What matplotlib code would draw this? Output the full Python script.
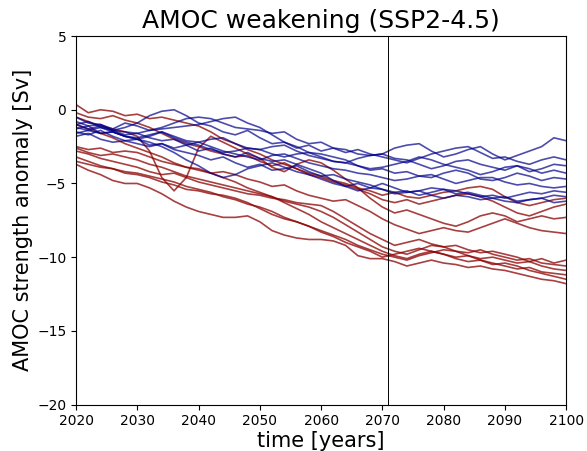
import numpy as np
import matplotlib
matplotlib.use("Agg")
import matplotlib.pyplot as plt

years = list(range(2020, 2101, 2))

# Blue ensemble members (AMOC anomaly, Sv)
blue_1 = [-1.0, -0.8, -1.2, -1.4, -1.2,
          -0.9, -0.4, -0.1, 0.0, -0.4,
          -0.9, -1.1, -1.5, -1.7, -1.4,
          -1.9, -2.3, -2.2, -2.6, -2.4,
          -2.8, -2.6, -2.7, -3.0, -3.1,
          -3.0, -2.6, -2.4, -2.3, -2.8,
          -3.2, -3.0, -2.7, -2.5, -3.0,
          -3.4, -3.1, -2.8, -2.5, -1.9,
          -2.1]
blue_2 = [-0.5, -0.9, -1.0, -1.3, -0.9,
          -1.1, -1.4, -1.2, -0.9, -0.6,
          -0.5, -0.6, -0.9, -1.2, -1.3,
          -1.4, -1.6, -1.5, -2.0, -2.3,
          -2.2, -2.6, -2.9, -2.7, -3.0,
          -3.2, -3.4, -3.6, -3.3, -3.0,
          -2.8, -2.6, -2.5, -2.9, -3.3,
          -3.2, -3.5, -3.7, -3.4, -3.2,
          -3.4]
blue_3 = [-1.3, -1.1, -1.6, -1.5, -1.8,
          -1.9, -1.7, -1.5, -1.8, -2.1,
          -2.2, -2.0, -1.9, -2.3, -2.6,
          -2.7, -2.5, -2.4, -2.8, -3.1,
          -3.3, -3.5, -3.6, -3.3, -3.1,
          -3.0, -3.3, -3.4, -3.7, -4.0,
          -3.8, -3.5, -3.4, -3.7, -3.9,
          -4.1, -3.8, -4.2, -4.0, -3.7,
          -3.8]
blue_4 = [-1.6, -1.4, -1.2, -1.5, -1.8,
          -2.0, -1.8, -1.5, -1.9, -2.2,
          -2.4, -2.7, -2.9, -2.8, -2.6,
          -2.7, -3.0, -3.2, -3.0, -2.9,
          -3.2, -3.5, -3.6, -3.8, -4.0,
          -3.9, -3.7, -3.5, -3.2, -3.4,
          -3.7, -3.9, -4.1, -4.4, -4.2,
          -3.9, -3.8, -4.0, -4.3, -4.1,
          -4.3]
blue_5 = [-0.8, -1.1, -1.0, -1.4, -1.5,
          -1.6, -1.4, -1.3, -1.2, -1.1,
          -1.0, -0.8, -0.6, -0.5, -0.9,
          -1.2, -1.7, -2.2, -2.5, -2.9,
          -3.0, -3.2, -3.4, -3.8, -4.1,
          -4.0, -4.3, -4.2, -4.5, -4.6,
          -4.3, -4.1, -4.3, -4.7, -4.8,
          -4.6, -4.3, -4.5, -4.8, -4.6,
          -4.7]
blue_6 = [-1.8, -1.6, -2.0, -2.2, -2.1,
          -2.3, -2.5, -2.3, -2.6, -2.4,
          -2.2, -2.5, -2.8, -3.0, -3.2,
          -3.4, -3.1, -3.0, -3.3, -3.6,
          -3.8, -4.0, -4.1, -4.3, -4.4,
          -4.6, -4.8, -4.7, -4.5, -4.4,
          -4.7, -5.0, -4.8, -4.6, -4.6,
          -4.9, -5.1, -5.0, -5.2, -5.3,
          -5.2]
blue_7 = [-1.2, -1.4, -1.6, -1.5, -1.8,
          -2.0, -2.2, -2.5, -2.9, -3.4,
          -3.8, -4.3, -4.6, -4.4, -4.0,
          -3.8, -3.6, -3.9, -4.2, -4.4,
          -4.7, -5.0, -5.2, -5.0, -5.3,
          -5.4, -5.6, -5.5, -5.8, -5.6,
          -5.4, -5.5, -5.7, -5.9, -5.8,
          -6.0, -5.8, -5.6, -5.7, -5.5,
          -5.6]
blue_8 = [-1.0, -1.3, -1.1, -1.4, -1.7,
          -1.6, -1.9, -2.1, -2.0, -2.4,
          -2.8, -2.6, -3.0, -3.2, -2.9,
          -3.3, -3.5, -3.4, -3.7, -4.0,
          -4.3, -4.8, -5.2, -5.5, -5.3,
          -5.0, -5.3, -5.6, -5.5, -5.3,
          -5.4, -5.7, -5.6, -5.8, -6.0,
          -5.9, -6.2, -6.1, -6.0, -5.8,
          -5.9]
blue_9 = [-1.5, -1.7, -1.4, -1.8, -2.1,
          -2.0, -2.4, -2.3, -2.7, -2.9,
          -3.1, -3.4, -3.2, -3.6, -3.9,
          -3.7, -4.1, -4.0, -3.8, -4.2,
          -4.5, -4.4, -4.7, -4.9, -5.1,
          -5.4, -5.7, -5.6, -5.5, -5.8,
          -6.0, -5.8, -5.9, -6.1, -6.0,
          -6.2, -6.3, -6.1, -6.0, -6.3,
          -6.2]

# Red ensemble members (AMOC anomaly, Sv)
red_1 = [0.35, -0.2, 0.0, -0.1, -0.4,
         -0.3, -0.6, -0.5, -0.7, -0.9,
         -1.1, -1.5, -2.0, -2.3, -2.7,
         -3.0, -3.4, -3.7, -4.0, -4.3,
         -4.5, -4.8, -5.0, -5.3, -5.5,
         -5.8, -5.6, -5.9, -6.0, -5.8,
         -5.6, -5.5, -5.3, -5.2, -5.4,
         -5.9, -6.3, -6.5, -6.3, -6.1,
         -6.0]
red_2 = [-0.2, -0.5, -0.6, -0.4, -0.7,
         -0.9, -1.2, -1.6, -2.0, -2.3,
         -2.5, -2.8, -3.0, -3.2, -3.1,
         -3.5, -3.8, -3.6, -4.0, -4.4,
         -4.6, -4.9, -5.1, -5.4, -5.7,
         -6.1, -6.3, -6.1, -6.4, -6.2,
         -6.0, -5.8, -5.7, -5.9, -6.2,
         -6.6, -7.0, -7.2, -6.9, -6.6,
         -6.4]
red_3 = [-0.5, -0.8, -1.1, -1.3, -1.5,
         -1.8, -2.8, -4.6, -5.5, -4.6,
         -2.6, -1.8, -2.2, -2.6, -3.0,
         -3.3, -3.9, -4.2, -3.7, -3.4,
         -3.6, -4.1, -4.7, -5.3, -6.0,
         -6.6, -7.0, -6.8, -7.1, -7.4,
         -7.7, -7.9, -7.6, -7.2, -7.0,
         -7.2, -7.6, -7.4, -7.2, -7.4,
         -7.3]
red_4 = [-2.5, -2.7, -2.6, -2.9, -2.8,
         -2.9, -3.2, -3.5, -3.7, -3.9,
         -4.0, -4.3, -4.2, -4.4, -4.7,
         -4.9, -5.2, -5.1, -5.5, -5.8,
         -6.0, -6.2, -6.1, -6.5, -6.9,
         -7.4, -7.8, -8.1, -8.4, -8.2,
         -8.0, -8.2, -8.3, -8.0, -7.7,
         -7.4, -7.7, -8.0, -8.2, -8.3,
         -8.4]
red_5 = [-2.8, -3.0, -3.3, -3.5, -3.7,
         -3.9, -4.2, -4.4, -4.3, -4.6,
         -4.9, -5.1, -5.3, -5.5, -5.7,
         -5.8, -6.0, -6.1, -6.3, -6.4,
         -6.5, -6.9, -7.4, -7.9, -8.4,
         -8.8, -9.2, -9.0, -8.8, -9.1,
         -9.3, -9.2, -9.5, -9.7, -9.6,
         -9.8, -10.0, -10.3, -10.1, -10.4,
         -10.2]
red_6 = [-3.5, -3.7, -3.9, -4.0, -4.2,
         -4.3, -4.5, -4.7, -4.9, -5.2,
         -5.4, -5.6, -5.9, -6.1, -6.4,
         -6.6, -6.9, -7.3, -7.6, -7.9,
         -8.3, -8.6, -9.0, -9.3, -9.6,
         -10.0, -9.8, -9.6, -9.4, -9.6,
         -9.8, -10.0, -9.9, -10.2, -10.5,
         -10.4, -10.6, -10.9, -11.1, -11.3,
         -11.5]
red_7 = [-3.2, -3.5, -3.8, -4.0, -4.3,
         -4.4, -4.6, -4.9, -5.1, -5.4,
         -5.5, -5.7, -5.8, -6.0, -6.3,
         -6.7, -7.1, -7.4, -7.6, -7.9,
         -8.2, -8.5, -8.8, -9.2, -9.5,
         -9.8, -10.0, -10.2, -9.9, -9.7,
         -9.5, -9.6, -9.9, -10.1, -10.0,
         -10.2, -10.4, -10.3, -10.6, -10.8,
         -10.9]
red_8 = [-3.7, -4.1, -4.4, -4.8, -5.0,
         -5.0, -5.3, -5.7, -6.2, -6.6,
         -6.9, -7.1, -7.3, -7.3, -7.2,
         -7.6, -8.2, -8.5, -8.7, -8.8,
         -8.8, -8.9, -9.2, -9.9, -10.1,
         -10.1, -10.3, -10.6, -10.4, -10.2,
         -10.4, -10.5, -10.7, -10.6, -10.8,
         -10.9, -11.1, -11.3, -11.5, -11.6,
         -11.8]
red_9 = [-2.6, -2.9, -3.1, -3.0, -3.2,
         -3.4, -3.7, -3.9, -4.2, -4.5,
         -4.7, -4.9, -5.1, -5.3, -5.5,
         -5.7, -5.9, -6.2, -6.4, -6.6,
         -6.9, -7.3, -7.8, -8.3, -8.8,
         -9.3, -9.6, -9.8, -9.5, -9.2,
         -9.3, -9.6, -9.7, -9.5, -9.8,
         -10.0, -10.2, -10.1, -10.4, -10.5,
         -10.6]
red_10 = [-1.0, -1.3, -1.6, -1.9, -2.3,
          -2.6, -2.9, -3.2, -3.6, -3.9,
          -4.1, -4.3, -4.6, -4.9, -5.3,
          -5.6, -5.9, -6.3, -6.7, -7.1,
          -7.6, -8.0, -8.4, -8.8, -9.2,
          -9.6, -9.9, -10.1, -9.8, -9.6,
          -9.8, -10.1, -10.3, -10.2, -10.4,
          -10.6, -10.8, -10.7, -11.0, -11.1,
          -11.2]

blue_runs = [blue_1, blue_2, blue_3, blue_4, blue_5, blue_6, blue_7, blue_8, blue_9]
red_runs = [red_1, red_2, red_3, red_4, red_5, red_6, red_7, red_8, red_9, red_10]
marker_year = 2071

fig = plt.figure(figsize=(5.87, 4.51), dpi=100)
ax = fig.add_axes([0.1295, 0.103, 0.835, 0.817])

for r in red_runs:
    ax.plot(years, r, color="#8B0000", alpha=0.75, lw=1.2)
for b in blue_runs:
    ax.plot(years, b, color="#00008B", alpha=0.7, lw=1.2)

ax.axvline(marker_year, color="black", lw=0.7)

ax.set_xlim(2020, 2100)
ax.set_ylim(-20, 5)
ax.set_xticks([2020, 2030, 2040, 2050, 2060, 2070, 2080, 2090, 2100])
ax.set_yticks([-20, -15, -10, -5, 0, 5])
ax.tick_params(labelsize=10)
ax.set_title("AMOC weakening (SSP2-4.5)", fontsize=18)
ax.set_xlabel("time [years]", fontsize=15, labelpad=2)
ax.set_ylabel("AMOC strength anomaly [Sv]", fontsize=15, labelpad=3)

fig.savefig("out.png", dpi=100)
